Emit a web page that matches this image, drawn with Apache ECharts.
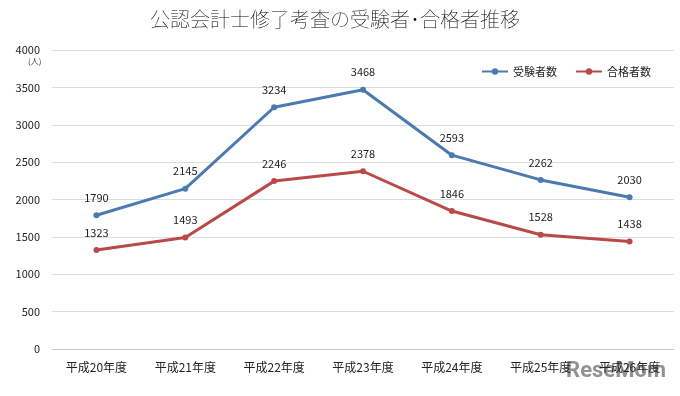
<!DOCTYPE html>
<html><head><meta charset="utf-8">
<script src="https://cdn.jsdelivr.net/npm/echarts@6/dist/echarts.min.js"></script>
<style>html,body{margin:0;padding:0;background:#fff}#c{width:680px;height:396px}</style>
</head><body><div id="c"></div>
<script>
const categories = ['平成20年度','平成21年度','平成22年度','平成23年度','平成24年度','平成25年度','平成26年度'];
const applicants = [1790, 2145, 3234, 3468, 2593, 2262, 2030];
const passers = [1323, 1493, 2246, 2378, 1846, 1528, 1438];
const yTicks = {min: 0, max: 4000, interval: 500};
const font = '"Noto Sans CJK JP", sans-serif';
const chart = echarts.init(document.getElementById('c'), null, {renderer: 'canvas'});
chart.setOption({
  animation: false,
  backgroundColor: '#fff',
  title: {text: '公認会計士修了考査の受験者･合格者推移', left: 330, top: 4, textAlign: 'center',
    textStyle: {fontFamily: font, fontSize: 20, fontWeight: 'lighter', color: '#000'}},
  legend: {top: 61, right: 24, itemGap: 18, itemWidth: 26, itemHeight: 8,
    textStyle: {fontFamily: font, fontSize: 11, color: '#222'},
    data: ['受験者数', '合格者数']},
  grid: {left: 52, right: 6, top: 50, bottom: 47},
  xAxis: {type: 'category', data: categories,
    axisLine: {lineStyle: {color: '#c8c8c8'}}, axisTick: {show: false},
    axisLabel: {fontFamily: font, fontSize: 12, color: '#222', margin: 12}},
  yAxis: {type: 'value', min: yTicks.min, max: yTicks.max, interval: yTicks.interval,
    axisLine: {show: false}, axisTick: {show: false},
    splitLine: {lineStyle: {color: '#dcdcdc'}},
    axisLabel: {fontFamily: font, fontSize: 11, color: '#222', margin: 12, formatter: v => String(v)}},
  graphic: [
    {type: 'text', left: 28, top: 57, style: {text: '(人)', fontFamily: font, fontSize: 8, fill: '#444'}},
    {type: 'text', right: 14, top: 360, style: {text: 'ReseMom', fontFamily: 'Roboto, sans-serif', fontSize: 22, fontWeight: 'bold', fill: 'rgba(110,110,110,0.75)'}}
  ],
  series: [
    {name: '受験者数', type: 'line', data: applicants, symbol: 'circle', symbolSize: 6,
      itemStyle: {color: '#4a7ab0'}, lineStyle: {width: 3, color: '#4a7ab0'},
      label: {show: true, position: 'top', distance: 9, fontFamily: font, fontSize: 11, color: '#222'}},
    {name: '合格者数', type: 'line', data: passers, symbol: 'circle', symbolSize: 6,
      itemStyle: {color: '#b94a48'}, lineStyle: {width: 3, color: '#b94a48'},
      label: {show: true, position: 'top', distance: 9, fontFamily: font, fontSize: 11, color: '#222'}}
  ]
});
</script></body></html>
